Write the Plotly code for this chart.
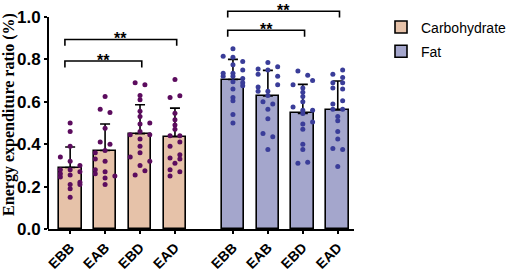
import plotly.graph_objects as go

categories = ["EBB", "EAB", "EBD", "EAD"]
series_names = ["Carbohydrate", "Fat"]

carb_mean = [0.29, 0.37, 0.45, 0.435]
carb_sd = [0.097, 0.125, 0.136, 0.135]
fat_mean = [0.705, 0.627, 0.545, 0.562]
fat_sd = [0.095, 0.121, 0.137, 0.136]

# individual points: values and their column (beeswarm lane)
carb_pts = [
    [0.50, 0.46, 0.39, 0.34, 0.32, 0.30, 0.28, 0.28, 0.27, 0.26, 0.255, 0.245, 0.22, 0.21, 0.21, 0.19, 0.15],
    [0.625, 0.565, 0.55, 0.475, 0.41, 0.40, 0.36, 0.37, 0.33, 0.32, 0.28, 0.27, 0.25, 0.26, 0.24, 0.21],
    [0.69, 0.68, 0.63, 0.61, 0.555, 0.53, 0.50, 0.495, 0.46, 0.445, 0.445, 0.425, 0.39, 0.36, 0.34, 0.32, 0.30, 0.275, 0.255],
    [0.705, 0.62, 0.628, 0.546, 0.515, 0.49, 0.47, 0.44, 0.44, 0.41, 0.39, 0.35, 0.335, 0.33, 0.31, 0.28, 0.27, 0.25],
]
carb_lane = [
    [0, 0, 0, -1, 0, 1, -1, 0, 1, -1, 0, -1, 1, 0, 1, 0, 0],
    [0, -0.5, 0.5, 0, -0.5, 0.5, -1, 0, -1, 0, -1, 0, 1, -1, 0, 0],
    [-0.5, 0.5, 0, 0, 0, 0, 1, 0, 0, -1, 1, 0, 0, 0, -1, 1, 0, 0.5, -0.5],
    [0, -0.5, 0.5, 0, 0, 0, 0, -0.5, 0.5, 0.5, -0.5, 0.5, -0.5, 0.5, 0, -0.5, 0.5, -0.5],
]
fat_pts = [
    [0.85, 0.815, 0.81, 0.79, 0.775, 0.75, 0.735, 0.735, 0.72, 0.72, 0.71, 0.695, 0.69, 0.675, 0.66, 0.62, 0.605, 0.54, 0.50],
    [0.785, 0.755, 0.765, 0.73, 0.75, 0.72, 0.68, 0.67, 0.65, 0.65, 0.63, 0.60, 0.59, 0.565, 0.52, 0.45, 0.435, 0.375],
    [0.745, 0.725, 0.68, 0.70, 0.665, 0.645, 0.625, 0.60, 0.575, 0.56, 0.56, 0.545, 0.505, 0.495, 0.47, 0.40, 0.375, 0.31, 0.315],
    [0.75, 0.73, 0.715, 0.69, 0.69, 0.665, 0.66, 0.605, 0.59, 0.565, 0.565, 0.53, 0.51, 0.46, 0.425, 0.38, 0.375, 0.295],
]
fat_lane = [
    [0, -1, 0, 1, 0, 1, -1, 0, -1, 0, 1, 0, 1, 1, 0, 0, 0, 0, 0],
    [0, -1, 1, -1, 0, 1, 1, -1, -1, 0, 0, -0.5, 0.5, 0, 0, -0.5, 0.5, 0],
    [-0.5, 0.5, -1, 1, 0, 0, 0, 0, -1, 0, 1, 0, 1, 0, 0, 0, 0, -0.5, 0.5],
    [0.5, -0.5, 0.5, -0.5, 0.5, -0.5, 0.5, 0.5, -0.5, -0.5, 0.5, 0, 0, 0, 0, -0.5, 0.5, 0],
]

# significance comparisons: (series, from idx, to idx, level, label)
sig = [
    (0, 0, 2, 0.792, "**"),
    (0, 0, 3, 0.894, "**"),
    (1, 0, 2, 0.937, "**"),
    (1, 0, 3, 1.027, "**"),
]

carb_pos = [0, 1, 2, 3]
fat_pos = [4.66, 5.66, 6.66, 7.66]
lane_w = 0.28

carb_fill = "#E6C2A9"
fat_fill = "#A4A6CC"
carb_dot = "#5C0C5E"
fat_dot = "#3A3D99"

fig = go.Figure()
for name, pos, mean, fill in [(series_names[0], carb_pos, carb_mean, carb_fill),
                              (series_names[1], fat_pos, fat_mean, fat_fill)]:
    fig.add_trace(go.Bar(x=pos, y=mean, width=0.65, name=name,
                         marker=dict(color=fill, line=dict(color="black", width=1.6)),
                         legendgroup=name))

for pos, mean, sd in [(carb_pos, carb_mean, carb_sd), (fat_pos, fat_mean, fat_sd)]:
    fig.add_trace(go.Scatter(x=pos, y=mean, mode="markers", marker=dict(size=1, color="rgba(0,0,0,0)"),
                             error_y=dict(type="data", array=sd, arrayminus=[0] * len(sd), symmetric=False,
                                          color="black", thickness=1.6, width=5),
                             showlegend=False, hoverinfo="skip"))

for pos, pts, lanes, col in [(carb_pos, carb_pts, carb_lane, carb_dot), (fat_pos, fat_pts, fat_lane, fat_dot)]:
    xs, ys = [], []
    for p, vals, ln in zip(pos, pts, lanes):
        for v, l in zip(vals, ln):
            xs.append(p + l * lane_w)
            ys.append(v)
    fig.add_trace(go.Scatter(x=xs, y=ys, mode="markers", marker=dict(size=5, color=col),
                             showlegend=False, hoverinfo="skip", cliponaxis=False))

shapes = [dict(type="line", xref="paper", yref="y", x0=0, x1=0, y0=0, y1=1.0,
               line=dict(color="black", width=2))]
annotations = []
for s, i, j, lvl, lab in sig:
    pos = carb_pos if s == 0 else fat_pos
    x0 = pos[i] - 0.15
    x1 = pos[j] + 0.05
    shapes.append(dict(type="path", xref="x", yref="y",
                       path=f"M{x0},{lvl - 0.03} L{x0},{lvl} L{x1},{lvl} L{x1},{lvl - 0.03}",
                       line=dict(color="black", width=1.6)))
    annotations.append(dict(x=(x0 + x1) / 2, y=lvl - 0.047, xref="x", yref="y", text=f"<b>{lab}</b>",
                            showarrow=False, yanchor="bottom", font=dict(size=16, color="black",
                                                                           family="Liberation Sans")))

fig.update_layout(
    width=512, height=271,
    margin=dict(l=48, r=153, t=0, b=42),
    paper_bgcolor="white", plot_bgcolor="white",
    bargap=0, showlegend=True,
    shapes=shapes, annotations=annotations,
    legend=dict(x=1.09, y=0.95, xanchor="left", yanchor="top", tracegroupgap=3,
                font=dict(family="Liberation Sans", size=14, color="black"), bgcolor="rgba(0,0,0,0)"),
    xaxis=dict(range=[-0.634, 8.125], tickvals=carb_pos + fat_pos, ticktext=categories + categories,
               showline=True, linecolor="black", linewidth=2, ticks="outside", ticklen=3, tickwidth=1.6,
               tickcolor="black", tickangle=-45, showgrid=False, zeroline=False, automargin=False,
               tickfont=dict(family="Liberation Sans", size=14, color="black", weight="bold")),
    yaxis=dict(range=[0, 1.08], tickvals=[0, 0.2, 0.4, 0.6, 0.8, 1.0],
               ticktext=["0.0", "0.2", "0.4", "0.6", "0.8", "1.0"],
               showline=False, ticks="outside", ticklen=3, tickwidth=2, tickcolor="black",
               showgrid=False, zeroline=False, automargin=False,
               tickfont=dict(family="Liberation Sans", size=17, color="black", weight="bold"),
               title=dict(text="Energy expenditure ratio (%)", standoff=2,
                          font=dict(family="Liberation Serif", size=16, color="black", weight="bold"))),
    font=dict(family="Liberation Sans", color="black"),
)

fig.write_html("out.html", config={"displayModeBar": False},
               post_script="document.body.style.margin='0px';")
